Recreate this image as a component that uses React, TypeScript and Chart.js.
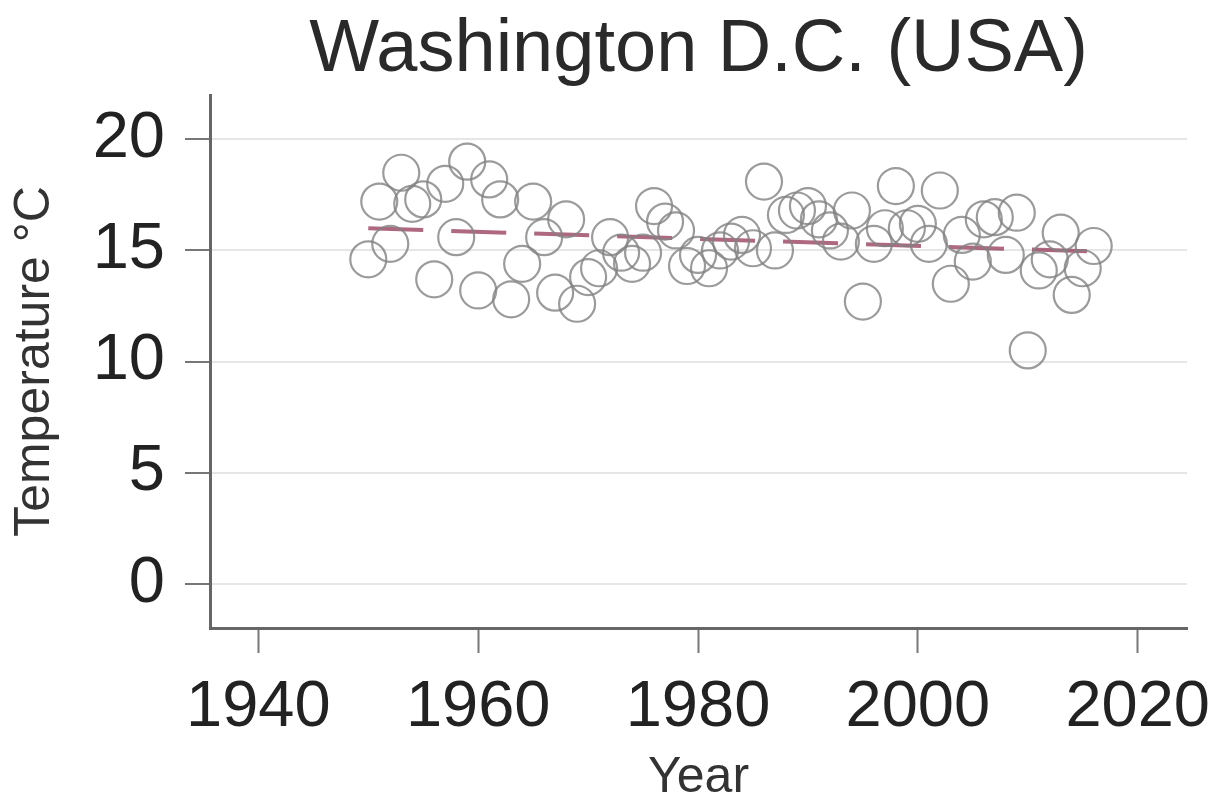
import React, { useEffect, useRef } from 'react';
import { Chart, registerables } from 'chart.js';

Chart.register(...registerables);

const chartTitle = 'Washington D.C. (USA)';
const xAxisLabel = 'Year';
const yAxisLabel = 'Temperature °C';

const years = [
  1950, 1951, 1952, 1953, 1954, 1955, 1956, 1957, 1958, 1959,
  1960, 1961, 1962, 1963, 1964, 1965, 1966, 1967, 1968, 1969,
  1970, 1971, 1972, 1973, 1974, 1975, 1976, 1977, 1978, 1979,
  1980, 1981, 1982, 1983, 1984, 1985, 1986, 1987, 1988, 1989,
  1990, 1991, 1992, 1993, 1994, 1995, 1996, 1997, 1998, 1999,
  2000, 2001, 2002, 2003, 2004, 2005, 2006, 2007, 2008, 2009,
  2010, 2011, 2012, 2013, 2014, 2015, 2016,
];

const temperatures = [
  14.6, 17.2, 15.3, 18.5, 17.1, 17.3, 13.7, 18.0, 15.6, 19.0,
  13.2, 18.2, 17.3, 12.8, 14.4, 17.2, 15.6, 13.1, 16.4, 12.6,
  13.8, 14.2, 15.6, 14.9, 14.4, 14.9, 17.0, 16.3, 15.9, 14.3,
  14.8, 14.2, 15.0, 15.4, 15.7, 15.1, 18.1, 15.0, 16.6, 16.8,
  17.0, 16.4, 15.9, 15.4, 16.8, 12.7, 15.3, 16.0, 17.9, 16.0,
  16.2, 15.3, 17.7, 13.5, 15.7, 14.5, 16.4, 16.5, 14.8, 16.7,
  10.5, 14.1, 14.6, 15.8, 13.0, 14.2, 15.2,
];

const trendYears = [1950, 2016];
const trendValues = [16.0, 14.95];

const xTickValues = [1940, 1960, 1980, 2000, 2020];
const yTickValues = [0, 5, 10, 15, 20];

const FONT = '"Liberation Sans", Arial, sans-serif';

const titlePlugin = {
  id: 'centeredTitle',
  afterDraw(chart: any) {
    const { ctx, chartArea } = chart;
    ctx.save();
    ctx.font = `74px ${FONT}`;
    ctx.fillStyle = '#2a2a2a';
    ctx.textAlign = 'center';
    ctx.textBaseline = 'alphabetic';
    ctx.fillText(chartTitle, (chartArea.left + chartArea.right) / 2, 71);
    ctx.restore();
  },
};

export default function App() {
  const canvasRef = useRef<HTMLCanvasElement | null>(null);

  useEffect(() => {
    if (!canvasRef.current) return;
    const scatterData = years.map((y, i) => ({ x: y, y: temperatures[i] }));
    const trendData = trendYears.map((y, i) => ({ x: y, y: trendValues[i] }));

    const chart = new Chart(canvasRef.current, {
      type: 'scatter',
      data: {
        datasets: [
          {
            type: 'scatter',
            data: scatterData,
            pointRadius: 18,
            pointBorderWidth: 2.2,
            pointBorderColor: 'rgba(130,130,130,0.8)',
            pointBackgroundColor: 'rgba(0,0,0,0)',
          } as any,
          {
            type: 'line',
            data: trendData,
            borderColor: 'rgba(140,40,75,0.7)',
            borderWidth: 4,
            borderDash: [55, 28],
            pointRadius: 0,
            fill: false,
          } as any,
        ],
      },
      options: {
        responsive: false,
        animation: false,
        layout: { padding: { top: 95, right: 40, left: 0, bottom: 0 } },
        plugins: {
          legend: { display: false },
          tooltip: { enabled: false },
          title: { display: false },
        },
        scales: {
          x: {
            type: 'linear',
            position: 'bottom',
            min: 1935.6,
            max: 2024.5,
            afterBuildTicks: (s: any) => {
              s.ticks = xTickValues.map((v) => ({ value: v }));
            },
            afterFit: (s: any) => {
              s.height = 168;
            },
            grid: {
              drawOnChartArea: false,
              drawTicks: true,
              tickLength: 25,
              tickColor: '#777',
              tickWidth: 2,
            },
            border: { display: true, color: '#666', width: 3 },
            ticks: {
              font: { size: 65, family: FONT },
              color: '#222',
              padding: 16,
              maxRotation: 0,
              autoSkip: false,
              callback: (v: any) => String(v),
            },
            title: {
              display: true,
              text: xAxisLabel,
              font: { size: 50, family: FONT, lineHeight: 1 },
              color: '#333',
              padding: { top: 0, bottom: -7 },
            },
          },
          y: {
            type: 'linear',
            min: -2,
            max: 22,
            afterBuildTicks: (s: any) => {
              s.ticks = yTickValues.map((v) => ({ value: v }));
            },
            afterFit: (s: any) => {
              s.width = 210;
            },
            grid: {
              drawOnChartArea: true,
              color: '#e6e6e6',
              lineWidth: 2,
              drawTicks: true,
              tickLength: 25,
              tickColor: '#777',
              tickWidth: 2,
            },
            border: { display: true, color: '#666', width: 3 },
            ticks: {
              font: { size: 65, family: FONT },
              color: '#222',
              padding: 20,
              autoSkip: false,
              callback: (v: any) => String(v),
            },
            title: {
              display: true,
              text: yAxisLabel,
              font: { size: 50, family: FONT, lineHeight: 1 },
              color: '#333',
              padding: { top: 10, bottom: 0 },
            },
          },
        },
      },
      plugins: [titlePlugin],
    });

    return () => chart.destroy();
  }, []);

  return (
    <div style={{ position: 'fixed', left: 0, top: 0, width: 1228, height: 796, background: '#fff' }}>
      <canvas ref={canvasRef} width={1228} height={796} />
    </div>
  );
}
